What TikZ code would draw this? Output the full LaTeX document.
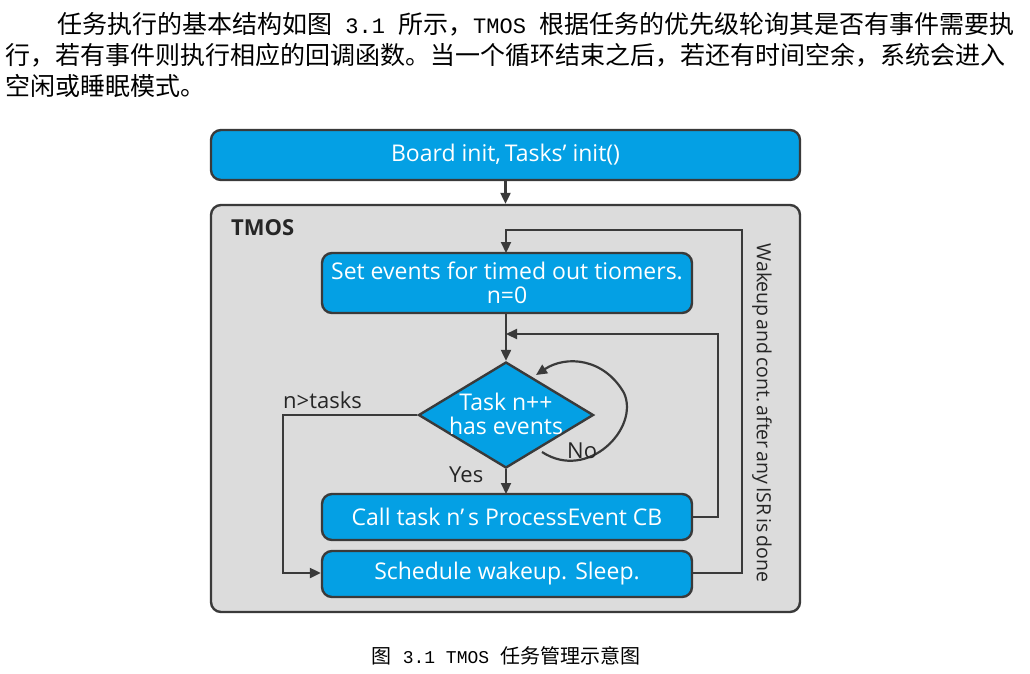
\documentclass[tikz,border=0pt]{standalone}
\usepackage{fontspec}
\setmainfont{Open Sans}
\newfontfamily\cjk{Noto Sans CJK SC}
\newfontfamily\mono{Liberation Mono}
\usetikzlibrary{arrows.meta,shapes.geometric,calc}
\definecolor{boxblue}{HTML}{04A0E4}
\definecolor{tmosgray}{HTML}{DCDCDC}
\definecolor{edge}{HTML}{3A3A3A}
\tikzset{
  bluebox/.style={draw=edge,line width=2.4pt,fill=boxblue,rounded corners=10pt,text=white,
    font=\fontsize{23}{27}\selectfont,align=center,inner sep=0pt},
  conn/.style={draw=edge,line width=2.2pt},
  arr/.style={conn,-{Triangle[length=11pt,width=10pt]}},
  lbl/.style={text=black!85,font=\fontsize{22}{26}\selectfont,inner sep=0pt},
  para/.style={anchor=base west,inner sep=0pt,font=\cjk\fontsize{25}{30}\selectfont},
}
\begin{document}
\begin{tikzpicture}[x=1pt,y=-1pt]
\useasboundingbox (0,0) rectangle (1030,673);
% paragraph
\node[para] (p1) at (57,33) {任务执行的基本结构如图{\mono\fontsize{22}{26}\selectfont{} 3.1 }所示，{\mono\fontsize{22}{26}\selectfont TMOS }根据任务的优先级轮询其是否有事件需要执};
\node[para] (p2) at (5,64) {行，若有事件则执行相应的回调函数。当一个循环结束之后，若还有时间空余，系统会进入};
\node[para] (p3) at (5,95) {空闲或睡眠模式。};
% boxes
\node[bluebox,minimum width=589pt,minimum height=50pt] (top) at (505.5,155) {Board init,\,Tasks’ init()};
\node[draw=edge,line width=2.4pt,fill=tmosgray,rounded corners=10pt,minimum width=589pt,minimum height=407pt,inner sep=0pt] (tmos) at (505.5,408.5) {};
\node[anchor=west,font=\bfseries\fontsize{22}{26}\selectfont,text=black!85,inner sep=0pt] (tmoslbl) at (231,228) {TMOS};
\node[bluebox,minimum width=370pt,minimum height=60pt,font=\fontsize{23}{24}\selectfont] (set) at (507,283) {Set events for timed out tiomers.\\n=0};
\node[diamond,draw=edge,line width=2.4pt,fill=boxblue,minimum width=175pt,minimum height=106pt,inner sep=0pt,aspect=1.65] (dia) at (506,415) {};
\node[text=white,font=\fontsize{23}{24}\selectfont,align=center,inner sep=0pt] (diat) at (506,414) {Task n++\\has events};
\node[bluebox,minimum width=370pt,minimum height=46pt] (call) at (507,517) {Call task n’\,s ProcessEvent CB};
\node[bluebox,minimum width=370pt,minimum height=46pt] (sched) at (507,574) {Schedule wakeup. Sleep.};
% arrows
\draw[arr] (top.south) -- (tmos.north -| top.south);
\coordinate (wk1) at (742,573);
\coordinate (wk2) at (742,230);
\coordinate (wk3) at (506,230);
\draw[arr] (sched.east |- 0,573) -- (wk1) -- (wk2) -- (wk3) -- (506,253);
\coordinate (lp1) at (718,517);
\coordinate (lp2) at (718,334);
\coordinate (lp3) at (506,334);
\draw[arr] (call.east) -- (lp1) -- (lp2) -- (lp3);
\draw[arr] (506,313) -- (dia.north);
\draw[arr] (dia.south) -- (506,494);
\coordinate (nt1) at (283,415);
\coordinate (nt2) at (283,573);
\draw[arr] (dia.west) -- (nt1) -- (nt2) -- (sched.west |- 0,573);
% self loop
\coordinate (no1) at (542,452);
\coordinate (no2) at (536,375);
\draw[arr] (no1) .. controls (588,482) and (640,428) .. (624,393) .. controls (604,358) and (566,355) .. (no2);
% labels
\node[lbl,anchor=base west] (ntl) at (283,408) {n>tasks};
\node[lbl,anchor=base west] (nol) at (567,458) {No};
\node[lbl,anchor=base west] (yesl) at (449,482) {Yes};
\node[lbl,rotate=-90,font=\fontsize{19.5}{24}\selectfont] (wkl) at (762,413) {Wakeup\hspace{3pt}and\hspace{3pt}cont.\hspace{3pt}after\hspace{3pt}any\hspace{3pt}ISR\hspace{3pt}is\hspace{3pt}done};
% caption
\node[anchor=base,inner sep=0pt,font=\cjk\fontsize{20}{24}\selectfont] (cap) at (506,663) {图{\mono\fontsize{18}{22}\selectfont{} 3.1 TMOS }任务管理示意图};
\end{tikzpicture}
\end{document}
